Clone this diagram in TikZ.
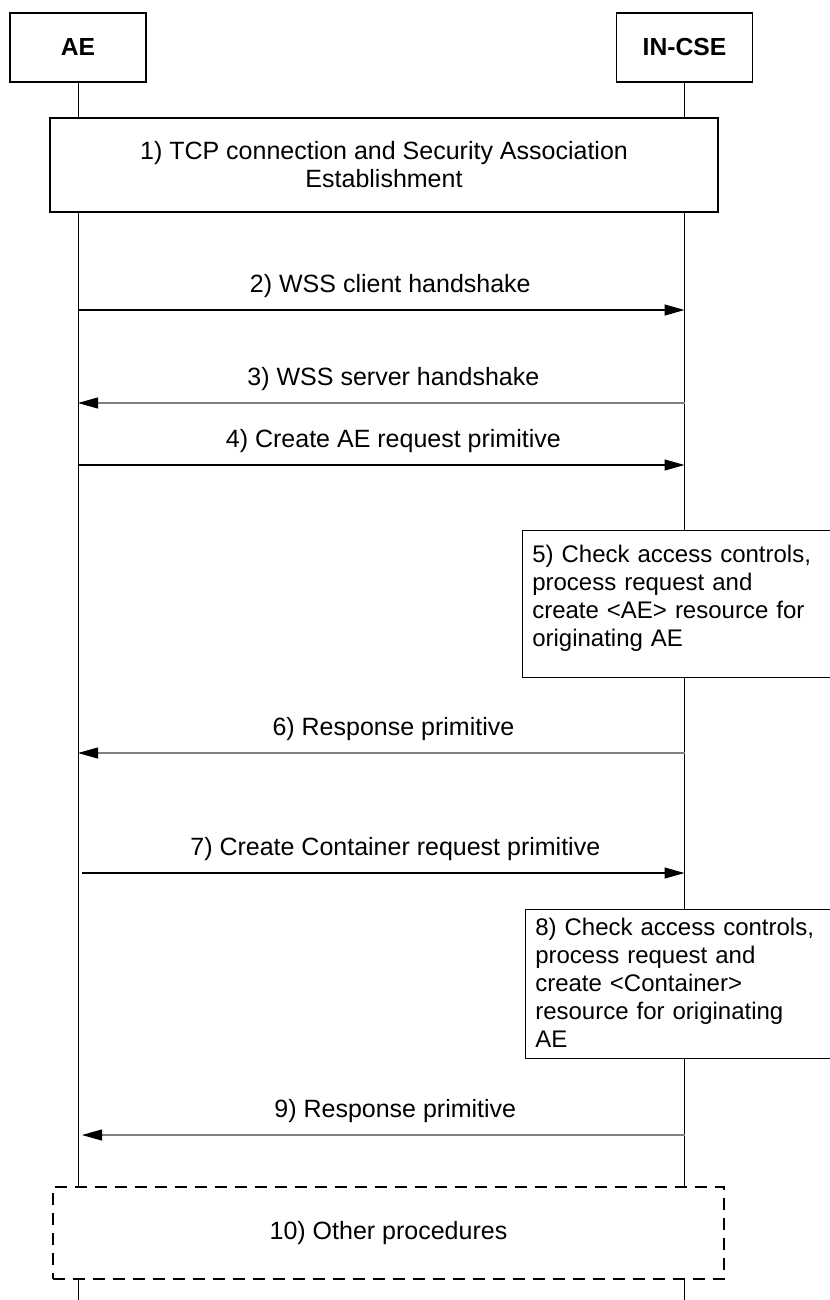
\documentclass[tikz,border=0pt]{standalone}
\usepackage{fontspec}
\setmainfont{Liberation Sans}
\usetikzlibrary{arrows.meta}
\begin{document}
\begin{tikzpicture}[x=0.75pt,y=-0.75pt,
  txt/.style={font=\fontsize{18pt}{21pt}\selectfont},
  bigtxt/.style={font=\fontsize{18.75pt}{21pt}\selectfont},
  entity/.style={draw, line width=0.8pt, fill=white, minimum width=102pt, minimum height=51.75pt, inner sep=0pt, font=\fontsize{18.5pt}{21pt}\selectfont\bfseries},
  wide/.style={draw, line width=0.8pt, fill=white, inner sep=0pt, align=center, bigtxt},
  procbox/.style={draw, line width=0.8pt, fill=white, anchor=north west, inner sep=0pt, minimum width=232.5pt},
  proctext/.style={anchor=base west, inner sep=0pt, text width=217.5pt, align=left, txt},
  otherbox/.style={draw, line width=1.2pt, dash pattern=on 9pt off 6pt, fill=white, inner sep=0pt, minimum width=503.25pt, minimum height=69pt, bigtxt},
  lifeline/.style={draw, line width=0.6pt},
  fwd/.style={line width=0.9pt, -{Triangle[length=15pt,width=8.25pt]}},
  back/.style={line width=0.8pt, draw=black!50, -{Triangle[length=15pt,width=8.25pt,color=black]}},
  lab/.style={bigtxt, anchor=base, yshift=13.5pt, inner sep=0pt}
]
\useasboundingbox (0,0) rectangle (830,1300);

% lifeline end points
\coordinate (aetop) at (78,47.5);
\coordinate (cstop) at (684.5,47.5);
\coordinate (aebot) at (78,1300);
\coordinate (csbot) at (684.5,1300);
\draw[lifeline] (aetop) -- (aebot);
\draw[lifeline] (cstop) -- (csbot);

% entities
\node[entity] (ae) at (aetop) {AE};
\node[entity] (cs) at (cstop) {IN-CSE};

% step 1
\node[wide, minimum width=501pt, minimum height=70.5pt] (s1) at (384,165)
  {1) TCP connection and Security Association\\Establishment};

% message anchor points
\coordinate (a2) at (78,310);   \coordinate (c2) at (684.5,310);
\coordinate (a3) at (78,403);   \coordinate (c3) at (684.5,403);
\coordinate (a4) at (78,465);   \coordinate (c4) at (684.5,465);
\coordinate (a6) at (78,753);   \coordinate (c6) at (684.5,753);
\coordinate (a7) at (82,873);   \coordinate (c7) at (684.5,873);
\coordinate (a9) at (82,1135);  \coordinate (c9) at (684.5,1135);

\draw[fwd] (a2) -- node[lab, pos=0.515] {2) WSS client handshake} (c2);
\draw[back] (c3) -- node[lab, pos=0.48] {3) WSS server handshake} (a3);
\draw[fwd] (a4) -- node[lab, pos=0.52] {4) Create AE request primitive} (c4);

\node[procbox, minimum height=110.25pt] (s5) at (522,530) {};
\node[proctext] (s5t) at (532,562)
  {5) Check access controls,\\process request and\\create <AE> resource for\\originating AE};

\draw[back] (c6) -- node[lab, pos=0.48] {6) Response primitive} (a6);
\draw[fwd] (a7) -- node[lab, pos=0.52] {7) Create Container request primitive} (c7);

\node[procbox, minimum height=111.75pt] (s8) at (525,909) {};
\node[proctext] (s8t) at (535,935)
  {8) Check access controls,\\process request and\\create <Container>\\resource for originating\\AE};

\draw[back] (c9) -- node[lab, pos=0.48] {9) Response primitive} (a9);

\node[otherbox] (s10) at (388.5,1233) {10) Other procedures};
\end{tikzpicture}
\end{document}
